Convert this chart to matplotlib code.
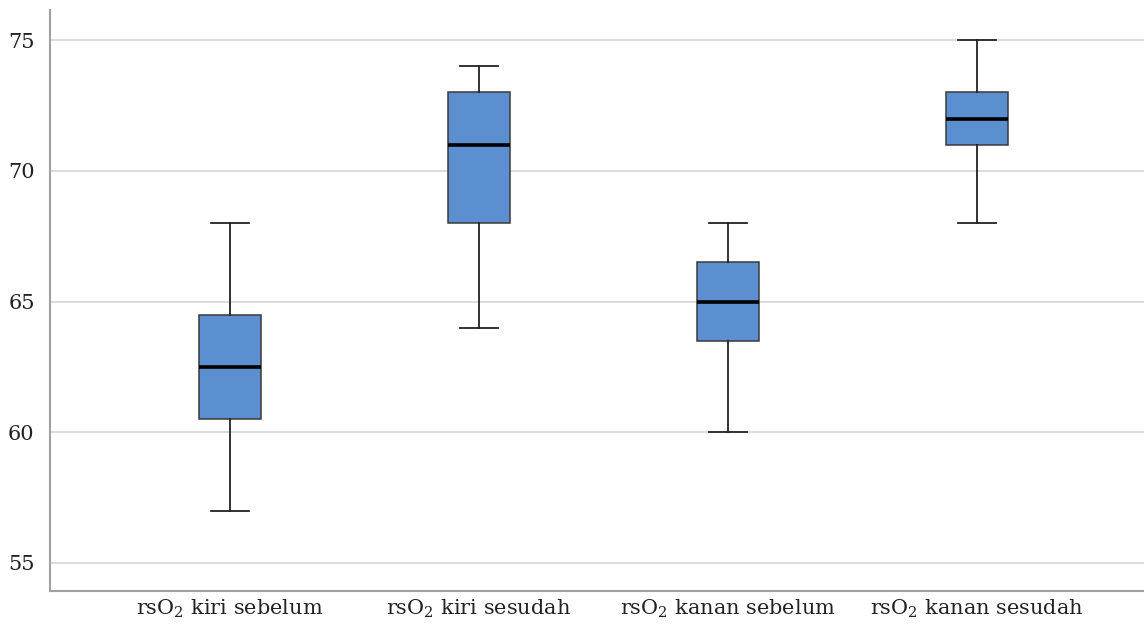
import matplotlib
matplotlib.use("Agg")
import matplotlib.pyplot as plt

plt.rcParams['font.family'] = ['DejaVu Serif']
plt.rcParams['mathtext.fontset'] = 'dejavuserif'

labels = ['rsO$_2$ kiri sebelum', 'rsO$_2$ kiri sesudah',
          'rsO$_2$ kanan sebelum', 'rsO$_2$ kanan sesudah']
whislo = [57, 64, 60, 68]
q1 = [60.5, 68, 63.5, 71]
med = [62.5, 71, 65, 72]
q3 = [64.5, 73, 66.5, 73]
whishi = [68, 74, 68, 75]

stats = []
for i in range(len(labels)):
    stats.append(dict(label=labels[i], whislo=whislo[i], q1=q1[i], med=med[i],
                      q3=q3[i], whishi=whishi[i], fliers=[]))

fig = plt.figure(figsize=(11.44, 6.26), dpi=100)
ax = fig.add_axes([0.0437, 0.056, 0.9563, 0.928])

ax.bxp(stats, positions=[1, 2, 3, 4], widths=0.25, patch_artist=True,
       showfliers=False,
       boxprops=dict(facecolor='#5b8fcf', edgecolor='#3a3a3a', linewidth=1.1),
       medianprops=dict(color='black', linewidth=2.6),
       whiskerprops=dict(color='#222222', linewidth=1.3),
       capprops=dict(color='#222222', linewidth=1.3),
       capwidths=0.15, zorder=3)

ax.set_xlim(0.278, 4.67)
ax.set_ylim(53.93, 76.15)
ax.set_yticks([55, 60, 65, 70, 75])
ax.yaxis.grid(True, color='#d9d9d9', linewidth=1.3, zorder=0)
ax.set_axisbelow(True)

for s in ['top', 'right']:
    ax.spines[s].set_visible(False)
for s in ['left', 'bottom']:
    ax.spines[s].set_color('#a0a0a0')
    ax.spines[s].set_linewidth(1.5)

ax.tick_params(axis='both', length=0, labelsize=15, colors='#222222')
ax.tick_params(axis='y', pad=11)
ax.tick_params(axis='x', pad=5)

fig.savefig('out.png', dpi=100)
